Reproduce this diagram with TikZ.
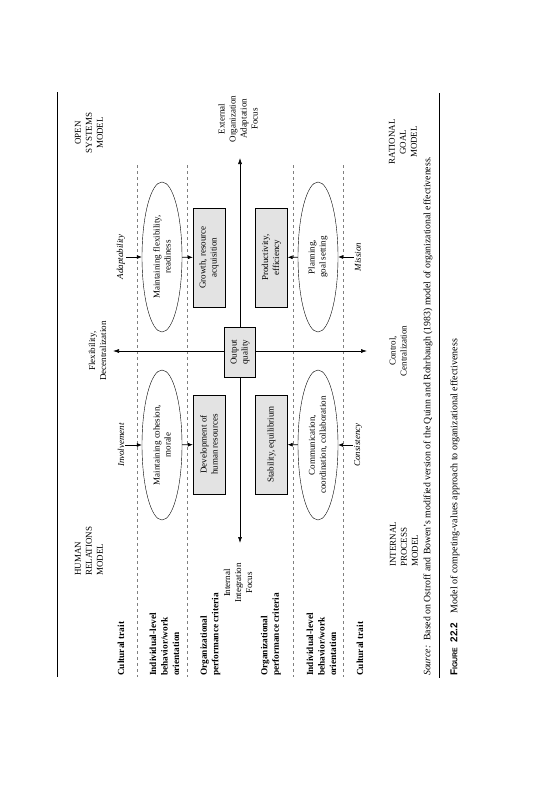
\documentclass[tikz,border=0pt]{standalone}
\usepackage{fontspec}
\setmainfont{Liberation Serif}
\setsansfont{Liberation Sans}
\usetikzlibrary{shapes.geometric,arrows.meta}

\begin{document}
\begin{tikzpicture}[
  x=1pt, y=-1pt,
  lbl/.style={rotate=90, font=\fontsize{9}{11}\selectfont, inner sep=1pt},
  rowlbl/.style={lbl, anchor=west, align=left, font=\fontsize{9.3}{11.5}\selectfont\bfseries},
  model/.style={lbl, align=center},
  crit/.style={lbl, draw, fill=gray!22, align=center, minimum width=99pt, minimum height=32pt},
  behav/.style={lbl, draw, ellipse, align=center, minimum width=150pt, minimum height=40pt, inner sep=0pt},
  trait/.style={lbl, font=\fontsize{9}{11}\selectfont\itshape},
  axis/.style={{Latex[length=6pt,width=4pt]}-{Latex[length=6pt,width=4pt]}, semithick},
  arrow/.style={-{Latex[length=5pt,width=4pt]}, semithick},
  sep/.style={gray, dashed, very thin}
]
  \useasboundingbox (0,0) rectangle (551,800);

  % Rules and row separators
  \draw[thin] (57,92) -- (57,677);
  \draw[thin] (439,93) -- (439,678);
  \foreach \x in {137,187,293,343}
    \draw[sep] (\x,165) -- (\x,677);

  % Axes
  \coordinate (ext) at (240,158);
  \coordinate (int) at (240,543);
  \coordinate (flex) at (113,351);
  \coordinate (ctrl) at (367,351);
  \draw[axis] (int) -- (ext);
  \draw[axis] (ctrl) -- (flex);

  % Performance criteria
  \node[crit] (growth) at (209,257.5) {Growth, resource\\acquisition};
  \node[crit] (develop) at (209,444.5) {Development of\\human resources};
  \node[crit] (prod) at (271.5,257.5) {Productivity,\\efficiency};
  \node[crit] (stab) at (271.5,444.5) {Stability, equilibrium};
  \node[crit, minimum width=50pt, minimum height=31pt] (output) at (240,352) {Output\\quality};

  % Behavior orientations
  \node[behav] (flexell) at (162,257) {Maintaining flexibility,\\readiness};
  \node[behav] (cohes) at (162,445) {Maintaining cohesion,\\morale};
  \node[behav] (plan) at (318,257) {Planning,\\goal setting};
  \node[behav] (comm) at (318,445) {Communication,\\coordination, collaboration};

  % Cultural traits
  \node[trait] (adapt) at (121,257) {Adaptability};
  \node[trait] (involve) at (121,445) {Involvement};
  \node[trait] (mission) at (358,257) {Mission};
  \node[trait] (consist) at (358,445) {Consistency};

  \draw[arrow] (adapt) -- (flexell);
  \draw[arrow] (flexell) -- (growth);
  \draw[arrow] (involve) -- (cohes);
  \draw[arrow] (cohes) -- (develop);
  \draw[arrow] (mission) -- (plan);
  \draw[arrow] (plan) -- (prod);
  \draw[arrow] (consist) -- (comm);
  \draw[arrow] (comm) -- (stab);

  % Axis labels
  \node[model] (flexlbl) at (97.5,351) {Flexibility,\\Decentralization};
  \node[model] (ctrllbl) at (398,351) {Control,\\Centralization};
  \node[model] (extlbl) at (238,119) {External\\Organization\\Adaptation\\Focus};
  \node[model] (intlbl) at (238,583) {Internal\\Integration\\Focus};

  % Models
  \node[model] (open) at (89,133) {OPEN\\SYSTEMS\\MODEL};
  \node[model] (rational) at (403,142) {RATIONAL\\GOAL\\MODEL};
  \node[model, anchor=west, align=left] (human) at (89,577) {HUMAN\\RELATIONS\\MODEL};
  \node[model, anchor=west, align=left] (internal) at (404,568) {INTERNAL\\PROCESS\\MODEL};

  % Row labels
  \node[rowlbl] (cultA) at (121,677) {Cultural trait};
  \node[rowlbl] (indA) at (164.5,677) {Individual-level\\behavior/work\\orientation};
  \node[rowlbl] (orgA) at (210.5,677) {Organizational\\performance criteria};
  \node[rowlbl] (orgB) at (271,677) {Organizational\\performance criteria};
  \node[rowlbl] (indB) at (321.5,677) {Individual-level\\behavior/work\\orientation};
  \node[rowlbl] (cultB) at (360,677) {Cultural trait};

  % Source and caption
  \node[lbl, anchor=west, font=\fontsize{9.8}{11}\selectfont] (source) at (428,677) {\textit{Source:}\enspace Based on Ostroff and Bowen's modified version of the Quinn and Rohrbaugh (1983) model of organizational effectiveness.};
  \node[lbl, anchor=west, font=\fontsize{10}{12}\selectfont] (caption) at (455,677) {\textsf{\bfseries F{\fontsize{7}{8}\selectfont IGURE}\enspace 22.2}\quad Model of competing-values approach to organizational effectiveness};
\end{tikzpicture}
\end{document}
